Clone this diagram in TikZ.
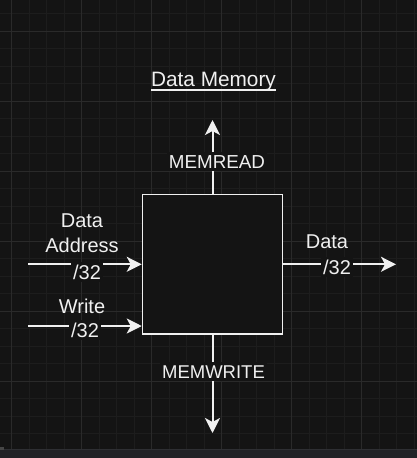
\documentclass[tikz,border=0pt]{standalone}
\usepackage{fontspec}
\setmainfont{Liberation Sans}
\usetikzlibrary{arrows.meta}
\definecolor{bgc}{HTML}{141414}
\definecolor{gridminor}{HTML}{1D1D1D}
\definecolor{gridmajor}{HTML}{2A2A2A}
\definecolor{fg}{HTML}{F0F0F0}
\definecolor{barc}{HTML}{222327}
\definecolor{baredge}{HTML}{2E2F33}
\tikzset{
  lbl/.style={text=fg, font=\fontsize{20}{25}\selectfont, inner sep=0pt},
  lblbg/.style={lbl, fill=bgc, inner xsep=2pt, inner ysep=3pt},
  arr/.style={draw=fg, line width=2pt, -{Stealth[length=15pt,width=15pt,inset=4pt]}},
  memblock/.style={draw=fg, line width=1.5pt, fill=bgc, minimum width=140pt, minimum height=139.5pt, inner sep=0pt}
}
\begin{document}
\begin{tikzpicture}[x=1pt,y=-1pt]
\useasboundingbox (0,0) rectangle (417,458);
\fill[bgc] (0,0) rectangle (417,458);
% grid
\foreach \i in {-1,...,23} {
  \pgfmathsetmacro\xx{11.7+17.5*\i}
  \draw[gridminor, line width=1pt] (\xx,0) -- (\xx,449.5);
  \pgfmathsetmacro\yy{31+17.5*\i}
  \draw[gridminor, line width=1pt] (0,\yy) -- (417,\yy);
}
\foreach \i in {0,...,5} {
  \pgfmathsetmacro\xx{11.7+70*\i}
  \draw[gridmajor, line width=1pt] (\xx,0) -- (\xx,449.5);
  \pgfmathsetmacro\yy{31+70*\i}
  \draw[gridmajor, line width=1pt] (0,\yy) -- (417,\yy);
}
% bottom bar
\fill[barc] (0,449.5) rectangle (417,458);
\draw[baredge, line width=0.8pt] (0,449.8) -- (417,449.8);
\fill[gray!55!black] (0,446.7) rectangle (4,450);

% memory block
\node[memblock] (mem) at (212.5,264.25) {};

% title
\node[lbl, font=\fontsize{20.8}{25}\selectfont, anchor=base] (title) at (213.5,86.5) {Data Memory};
\path (title.base west) ++(0,3.5) coordinate (ul1);
\path (title.base east) ++(0,3.5) coordinate (ul2);
\draw[fg, line width=1.2pt] (ul1) -- (ul2);

% MEMREAD
\coordinate (rtip) at (212.5,120);
\draw[arr] (mem.north) -- (rtip);
\node[lblbg, font=\fontsize{18.8}{25}\selectfont, anchor=base] (memread) at (217,168) {MEMREAD};

% MEMWRITE
\coordinate (wtip) at (212.5,433);
\draw[arr] (mem.south) -- (wtip);
\node[lblbg, font=\fontsize{18.5}{25}\selectfont, anchor=base] (memwrite) at (213.5,378) {MEMWRITE};

% Data Address input
\coordinate (a1) at (28,264.3);
\draw[arr] (a1) -- (a1 -| mem.west);
\node[lbl, align=center, anchor=base] (addrlbl) at (82,252) {Data\\Address};
\node[lblbg, anchor=base] (w1) at (87,279) {/32};

% Write input
\coordinate (a2) at (28,326);
\draw[arr] (a2) -- (a2 -| mem.west);
\node[lbl, anchor=base] (writelbl) at (82,313) {Write};
\node[lblbg, anchor=base] (w2) at (85,337) {/32};

% Data output
\coordinate (otip) at (396,264.3);
\draw[arr] (mem.east |- otip) -- (otip);
\node[lbl, anchor=base] (datalbl) at (327,248) {Data};
\node[lblbg, anchor=base] (w3) at (337,274) {/32};
\end{tikzpicture}
\end{document}
